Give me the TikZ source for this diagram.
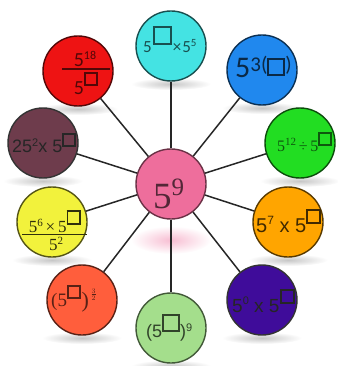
\documentclass[tikz,border=0pt]{standalone}
\usepackage{fontspec}
\setmainfont{Liberation Serif}
\newfontfamily\arl{Liberation Sans}
\newfontfamily\clb{Carlito}
\newcommand\sq[2]{{\setlength\fboxsep{0pt}\setlength\fboxrule{#2}\fbox{\rule{0pt}{#1}\rule{#1}{0pt}}}}
\newcommand\fs[1]{\fontsize{#1}{#1}\selectfont}
\definecolor{cCyan}{HTML}{44E3E3}
\definecolor{cRed}{HTML}{EE1313}
\definecolor{cBlue}{HTML}{2088EE}
\definecolor{cMaroon}{HTML}{6E3C4C}
\definecolor{cGreen}{HTML}{22DD22}
\definecolor{cYellow}{HTML}{F2F23C}
\definecolor{cOrange}{HTML}{FFA500}
\definecolor{cRedOr}{HTML}{FF5E3C}
\definecolor{cLGreen}{HTML}{A4DE8C}
\definecolor{cPurple}{HTML}{3F0C9A}
\definecolor{cPink}{HTML}{EE6E9C}
\begin{document}
\begin{tikzpicture}[x=1pt,y=-1pt,
  ball/.style={circle, fill=#1, draw=#1!35!black, line width=1.4pt, minimum size=70pt, inner sep=0pt},
  spoke/.style={draw=black!85, line width=1.5pt},
  txt/.style={inner sep=0pt, anchor=base west},
  shd/.style={inner color=black!22, outer color=white}]
\useasboundingbox (0,0) rectangle (337,366);
% shadows
\foreach \x/\y in {171/46, 262/70, 300/143, 288/222, 262/300, 171/328, 82/300, 52/222, 43/143, 78/71}
  \shade[shd] (\x,\y+38) ellipse (40pt and 6pt);
\shade[inner color=cPink!45, outer color=white] (171,240) ellipse (40pt and 14pt);
% circles
\node[ball=cPink, draw=cPink!45!black] (c) at (171,184) {};
\node[ball=cCyan] (n1) at (171,46) {};
\node[ball=cBlue] (n2) at (262,70) {};
\node[ball=cGreen] (n3) at (300,143) {};
\node[ball=cOrange] (n4) at (288,222) {};
\node[ball=cPurple, draw=black!80] (n5) at (262,300) {};
\node[ball=cLGreen, draw=cLGreen!40!black] (n6) at (171,328) {};
\node[ball=cRedOr] (n7) at (82,300) {};
\node[ball=cYellow] (n8) at (52,222) {};
\node[ball=cMaroon, draw=black!80] (n9) at (43,143) {};
\node[ball=cRed] (n10) at (78,71) {};
% spokes
\foreach \n in {n1,n2,n3,n4,n5,n6,n7,n8,n9,n10}
  \draw[spoke] (c) -- (\n);
% texts
\node[txt, text=cPink!35!black] (t0) at (153,208) {\fs{37}5\raisebox{13pt}{\fs{25}9}};
\node[txt, text=cCyan!35!black] (t1) at (143,53) {\clb\fs{17}5\hspace{1pt}\raisebox{10pt}{\sq{15pt}{2pt}}\hspace{1pt}×\hspace{1pt}5\raisebox{6pt}{\fs{11}5}};
\node[txt, text=cBlue!30!black] (t2) at (235,78) {\clb\fs{30}5\raisebox{6pt}{\fs{21}3(\raisebox{-2pt}{\sq{14pt}{2pt}})}};
\node[txt, text=cGreen!40!black] (t3) at (277,152) {\fs{16}5\raisebox{6pt}{\fs{11}12}\,÷\,5\raisebox{8pt}{\sq{10pt}{2pt}}};
\node[txt, text=cOrange!25!black] (t4) at (256,232) {\arl\fs{20}5\raisebox{8pt}{\fs{12}7} x 5\raisebox{10pt}{\sq{11pt}{2pt}}};
\node[txt, text=black!85] (t5) at (232,312) {\arl\fs{19}5\raisebox{8pt}{\fs{11}0} x 5\raisebox{10pt}{\sq{11pt}{2pt}}};
\node[txt, text=cLGreen!30!black] (t6) at (146,337) {\arl\fs{18}(5\raisebox{7pt}{\sq{14pt}{2pt}})\raisebox{6pt}{\fs{11}9}};
\node[txt, text=cRedOr!35!black] (t7) at (51,306) {\fs{19}(5\raisebox{9pt}{\sq{10pt}{1.8pt}}\hspace{1pt}\raisebox{-1pt}{\fs{22})}\hspace{1.5pt}\raisebox{9pt}{\fs{10}$\frac{3}{2}$}};
\node[txt, text=black!85] (t9) at (12,153) {\arl\fs{18}25\raisebox{6pt}{\fs{11}2}x 5\raisebox{8pt}{\sq{10pt}{1.8pt}}};
% red fraction
\node[inner sep=0pt, anchor=base, text=cRed!35!black] (t10a) at (85,67) {\clb\fs{20}5\raisebox{7pt}{\fs{12}18}};
\node[inner sep=0pt, anchor=base, text=cRed!35!black] (t10b) at (86,95) {\clb\fs{20}5\raisebox{11pt}{\sq{10pt}{2pt}}};
\draw[line width=1.6pt, cRed!35!black] ([xshift=-23pt,yshift=-2pt]t10a.base) -- ([xshift=25pt,yshift=-2pt]t10a.base);
% yellow fraction
\node[inner sep=0pt, anchor=base, text=cYellow!20!black] (t8a) at (55,232) {\fs{17}5\raisebox{6pt}{\fs{11}6}\,×\,5\raisebox{9pt}{\sq{11pt}{1.8pt}}};
\node[inner sep=0pt, anchor=base, text=cYellow!20!black] (t8b) at (56,250) {\fs{17}5\raisebox{6pt}{\fs{11}2}};
\draw[line width=1.6pt, cYellow!20!black] ([xshift=-33pt,yshift=-2.5pt]t8a.base) -- ([xshift=32pt,yshift=-2.5pt]t8a.base);
\end{tikzpicture}
\end{document}
